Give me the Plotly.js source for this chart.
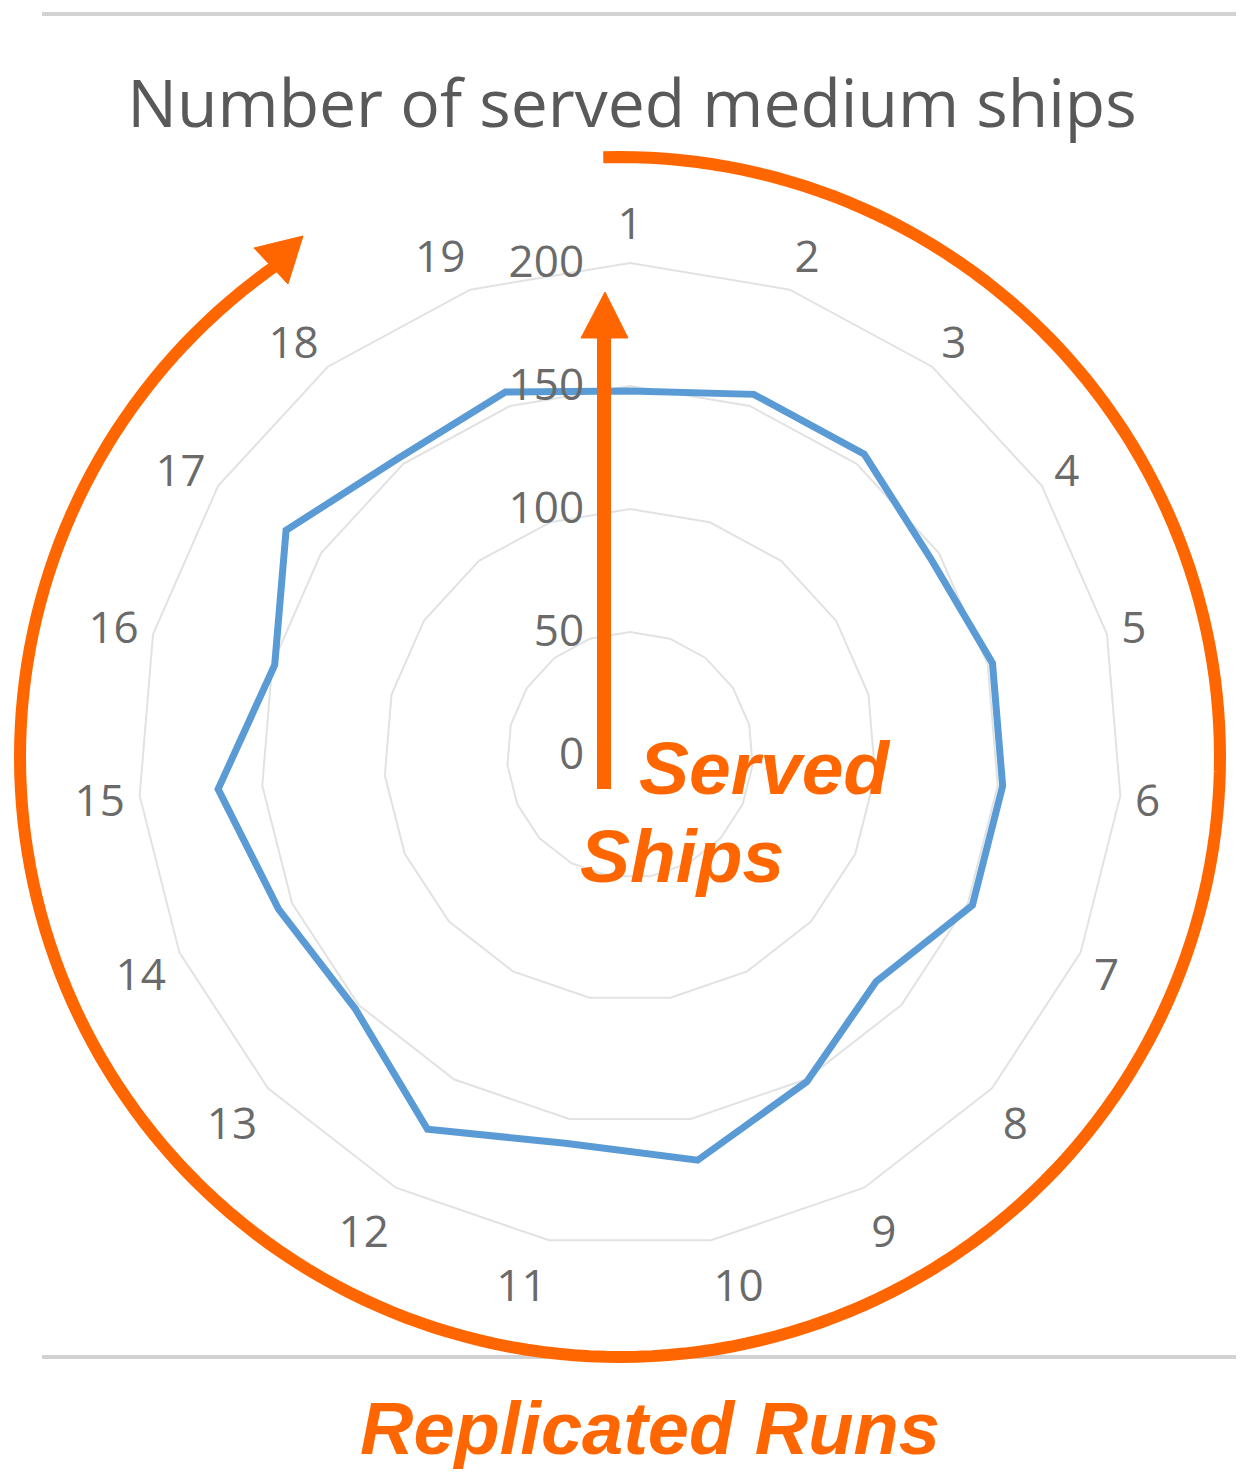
<!DOCTYPE html>
<html>
<head>
<meta charset="utf-8">
<script src="https://cdn.plot.ly/plotly-3.0.1.min.js"></script>
<style>
  html, body { margin: 0; padding: 0; background: #fff; }
  #grafico { width: 1251px; height: 1479px; }
</style>
</head>
<body>
<div id="grafico"></div>
<script>
// Radar: number of served medium ships per replicated run (19 runs)

const runs = ['1','2','3','4','5','6','7','8','9','10','11','12','13','14','15','16','17','18','19'];
const servedShips = [148, 155, 155, 146, 152, 152, 152, 136, 151, 167, 160, 173, 152, 156, 168, 149, 167, 153, 156];
const radialTicks = [0, 50, 100, 150, 200];

const W = 1251, H = 1479;
// pixel -> paper helpers (margins are zero, so paper == whole page)
function px(x) { return x / W; }
function py(y) { return 1 - y / H; }
function pt(x, y) { return px(x).toFixed(5) + ',' + py(y).toFixed(5); }

const orange = '#FF6600';

// closed polygon: repeat first run at the end
const trace = {
    type: 'scatterpolar',
    r: servedShips.concat([servedShips[0]]),
    theta: runs.concat([runs[0]]),
    mode: 'lines',
    line: { color: '#5B9BD5', width: 7 },
    hoverinfo: 'theta+r',
    showlegend: false
};

// big orange arc round the radar (clockwise, from top to upper-left)
const cx = 620, cy = 757, rad = 600;
let arcPath = '';
for (let a = -1.6; a <= 327; a += 1.5) {
    const t = a * Math.PI / 180;
    const x = cx + rad * Math.sin(t);
    const y = cy - rad * Math.cos(t);
    arcPath += (arcPath ? ' L ' : 'M ') + pt(x, y);
}

const shapes = [
    // grey rules top and bottom
    { type: 'line', xref: 'paper', yref: 'paper', x0: px(42), x1: px(1236), y0: py(14), y1: py(14),
      line: { color: '#d2d2d2', width: 4 } },
    { type: 'line', xref: 'paper', yref: 'paper', x0: px(42), x1: px(1236), y0: py(1357), y1: py(1357),
      line: { color: '#d2d2d2', width: 4 } },
    // orange arc + head
    { type: 'path', xref: 'paper', yref: 'paper', path: arcPath,
      line: { color: orange, width: 12 } },
    { type: 'path', xref: 'paper', yref: 'paper',
      path: 'M ' + pt(303, 236) + ' L ' + pt(254, 248) + ' L ' + pt(288, 284) + ' Z',
      fillcolor: orange, line: { color: orange, width: 1 } },
    // vertical arrow (served ships)
    { type: 'line', xref: 'paper', yref: 'paper', x0: px(604), x1: px(604), y0: py(789), y1: py(330),
      line: { color: orange, width: 14 } },
    { type: 'path', xref: 'paper', yref: 'paper',
      path: 'M ' + pt(605, 292) + ' L ' + pt(581, 338) + ' L ' + pt(628, 338) + ' Z',
      fillcolor: orange, line: { color: orange, width: 1 } }
];

const annotations = [
    { xref: 'paper', yref: 'paper', x: px(765), y: py(768), text: '<b><i>Served</i></b>',
      showarrow: false, xanchor: 'center', yanchor: 'middle',
      font: { family: 'Liberation Sans, Arial, sans-serif', size: 75, color: orange } },
    { xref: 'paper', yref: 'paper', x: px(682), y: py(856), text: '<b><i>Ships</i></b>',
      showarrow: false, xanchor: 'center', yanchor: 'middle',
      font: { family: 'Liberation Sans, Arial, sans-serif', size: 75, color: orange } },
    { xref: 'paper', yref: 'paper', x: px(650), y: py(1428), text: '<b><i>Replicated Runs</i></b>',
      showarrow: false, xanchor: 'center', yanchor: 'middle',
      font: { family: 'Liberation Sans, Arial, sans-serif', size: 74, color: orange } }
];

const tickFont = { family: 'Open Sans, Noto Sans, sans-serif', size: 44, color: '#6a6a6a' };

const layout = {
    width: W,
    height: H,
    margin: { l: 0, r: 0, t: 0, b: 0 },
    paper_bgcolor: '#ffffff',
    showlegend: false,
    title: {
        text: 'Number of served medium ships',
        x: px(632), xanchor: 'center',
        y: py(104), yanchor: 'middle',
        font: { family: 'Open Sans, Noto Sans, sans-serif', size: 66, color: '#595959' }
    },
    polar: {
        domain: { x: [px(138), px(1122)], y: [py(1247), py(263)] },
        bgcolor: 'rgba(0,0,0,0)',
        gridshape: 'linear',
        radialaxis: {
            range: [0, 200],
            tickvals: radialTicks,
            ticktext: radialTicks.map(String),
            angle: 90,
            tickangle: 90,
            side: 'counterclockwise',
            showline: false,
            ticks: 'outside',
            ticklen: 30,
            tickcolor: 'rgba(0,0,0,0)',
            gridcolor: '#e2e2e2',
            gridwidth: 2,
            tickfont: tickFont
        },
        angularaxis: {
            type: 'category',
            categoryarray: runs,
            rotation: 90,
            direction: 'clockwise',
            showgrid: false,
            showline: true,
            linecolor: '#e2e2e2',
            linewidth: 2,
            ticks: 'outside',
            ticklen: 5,
            tickcolor: 'rgba(0,0,0,0)',
            tickfont: tickFont
        }
    },
    shapes: shapes,
    annotations: annotations
};

Plotly.newPlot('grafico', [trace], layout, { displayModeBar: false, staticPlot: true });
</script>
</body>
</html>
